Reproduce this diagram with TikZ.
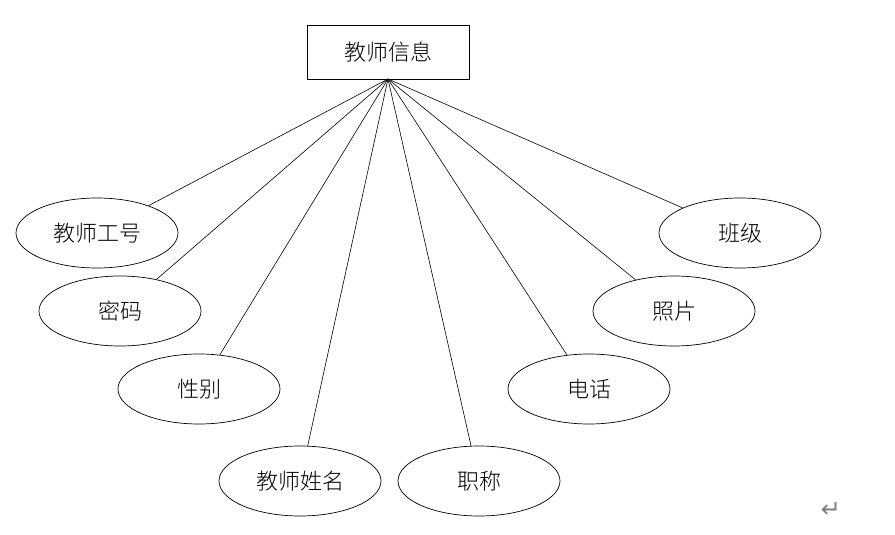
\documentclass[tikz,border=0pt]{standalone}
\usepackage{fontspec}
\newfontfamily\cjk{Noto Sans CJK SC Light}
\newfontfamily\sym{DejaVu Sans}
\usetikzlibrary{shapes.geometric}
\tikzset{
  ent/.style={draw, line width=0.7pt, minimum width=162pt, minimum height=54pt, inner sep=0pt, font=\cjk\fontsize{22}{24}\selectfont},
  attr/.style={draw, ellipse, line width=0.7pt, minimum width=162pt, minimum height=70pt, inner sep=0pt, font=\cjk\fontsize{22}{24}\selectfont},
  link/.style={line width=0.6pt}
}
\begin{document}
\begin{tikzpicture}[x=1pt,y=-1pt]
\useasboundingbox (0,0) rectangle (895,535);
\node[ent] (top) at (388,52) {教师信息};
\coordinate (hub) at (388,79);
\node[attr] (a1) at (97,233) {教师工号};
\node[attr] (a2) at (120,311) {密码};
\node[attr] (a3) at (199,389) {性别};
\node[attr] (a4) at (300,481) {教师姓名};
\node[attr] (a5) at (479,481) {职称};
\node[attr] (a6) at (589,389) {电话};
\node[attr] (a7) at (674,311) {照片};
\node[attr] (a8) at (740,233) {班级};
\foreach \n in {a1,a2,a3,a4,a5,a6,a7,a8} \draw[link] (hub) -- (\n);
\node[font=\sym\fontsize{24}{26}\selectfont, text=gray] (ret) at (831,510) {↵};
\end{tikzpicture}
\end{document}
